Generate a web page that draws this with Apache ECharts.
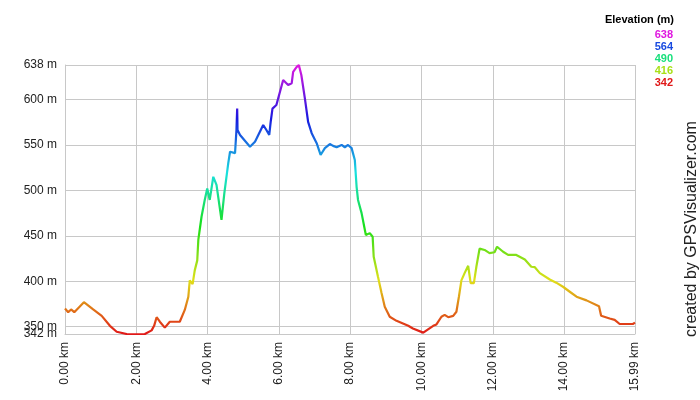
<html>
	<head>
		<meta charset="utf-8" />
		<title>Elevation profile</title>
		<script src="https://cdn.jsdelivr.net/npm/echarts@6/dist/echarts.min.js"></script>
		<style>
			html,
			body {
				margin: 0;
				padding: 0;
				background: #fff;
			}
		</style>
	</head>
	<body>
		<div id="main" style="width: 700px;height:400px;"></div>
		<script type="text/javascript">
			// distance along the track (km) and elevation (m)
			var distKm = [
				0, 0.09, 0.17, 0.26, 0.53, 0.79, 1.03, 1.26, 1.45, 1.73, 2.01, 2.24, 2.43, 2.5, 2.57, 2.66, 2.8, 2.94,
				3.22, 3.36, 3.46, 3.5, 3.58, 3.64, 3.71, 3.74, 3.83, 3.92, 3.99, 4.06, 4.16, 4.25, 4.39, 4.47, 4.58,
				4.63, 4.77, 4.81, 4.83, 4.84, 4.91, 5.19, 5.33, 5.56, 5.65, 5.73, 5.77, 5.82, 5.93, 6.12, 6.26, 6.36,
				6.4, 6.5, 6.56, 6.63, 6.73, 6.82, 6.92, 7.06, 7.17, 7.29, 7.43, 7.52, 7.62, 7.76, 7.85, 7.94, 8.04,
				8.13, 8.18, 8.22, 8.32, 8.44, 8.55, 8.63, 8.66, 8.78, 8.88, 8.97, 9.11, 9.3, 9.63, 9.76, 10.05,
				10.33, 10.42, 10.56, 10.65, 10.75, 10.89, 10.98, 11.05, 11.12, 11.21, 11.31, 11.38, 11.47, 11.54,
				11.63, 11.77, 11.91, 12.05, 12.12, 12.29, 12.43, 12.66, 12.9, 13.08, 13.18, 13.32, 13.6, 13.78,
				13.97, 14.16, 14.35, 14.63, 14.98, 15.04, 15.28, 15.42, 15.56, 15.93, 15.99,
			];
			var elevM = [
				370, 366, 369, 366, 377, 369, 362, 351, 344.5, 342, 341.5, 342, 346, 351, 360.5, 355.5, 349, 355.5,
				355.5, 368.5, 383, 401, 397, 412, 423, 445.5, 471, 489.5, 502, 489.5, 515, 506, 467.5, 497, 530,
				542.5, 541, 566.5, 590, 566.5, 561, 548, 553.5, 572, 566.5, 561, 575.5, 590, 594, 621.5, 616, 618,
				630.5, 636, 638, 627, 601, 575.5, 563, 552, 539, 546.5, 551, 549, 547.5, 550, 547.5, 550, 546.5,
				533.5, 504, 489.5, 475, 451, 453, 449, 427, 405, 387, 372, 361, 356.5, 351, 348, 343.5,
				351, 352.5, 361, 363, 360.5, 362, 366.5, 383, 401, 409, 417, 398, 398, 416,
				436, 434.5, 431, 432, 438, 432.5, 429, 429, 424, 416, 415.5, 409, 402, 398.5,
				394, 388.5, 383, 379, 372.5, 362, 359, 357.5, 353, 353, 354.5,
			];
			var elevMin = 342;
			var elevMax = 638;
			var elevTicks = [342, 350, 400, 450, 500, 550, 600, 638];
			var elevLabels = [350, 400, 450, 500, 550, 600, 638];
			var legendTitle = 'Elevation (m)';
			var legendValues = [638, 564, 490, 416, 342];
			var legendColors = ['#e018e0', '#184ae0', '#18e07c', '#a8e018', '#e01818'];

			var points = distKm.map(function(d, i) {
				return [d, elevM[i]];
			});

			var gridColor = '#c8c8c8';
			var labelFont = {
				margin: 8,
				color: '#222',
				fontSize: 12,
				fontFamily: '"Liberation Sans", Arial',
				formatter: function(v) {
					return v + ' m';
				},
			};
			var graphics = [
				{
					type: 'text',
					right: 26,
					top: 14,
					style: { text: legendTitle, font: 'bold 11px "Liberation Sans", Arial', fill: '#000' },
				},
				{
					type: 'text',
					x: 692,
					y: 229,
					rotation: Math.PI / 2,
					style: {
						text: 'created by GPSVisualizer.com',
						font: '16px "Liberation Sans", Arial',
						fill: '#222',
						align: 'center',
						verticalAlign: 'middle',
					},
				},
			];
			legendValues.forEach(function(v, i) {
				graphics.push({
					type: 'text',
					x: 673,
					y: 35 + i * 12,
					style: {
						text: String(v),
						font: 'bold 11px "Liberation Sans", Arial',
						fill: legendColors[i],
						align: 'right',
						verticalAlign: 'middle',
					},
				});
			});

			var myChart = echarts.init(document.getElementById('main'));
			var option = {
				animation: false,
				grid: { left: 65, right: 65, top: 65, bottom: 66 },
				xAxis: {
					type: 'value',
					min: 0,
					max: 15.99,
					interval: 2,
					axisLine: { lineStyle: { color: gridColor } },
					axisTick: { show: false },
					splitLine: { show: true, lineStyle: { color: gridColor } },
					axisLabel: {
						rotate: 90,
						margin: 8,
						color: '#222',
						fontSize: 12,
						fontFamily: '"Liberation Sans", Arial',
						showMaxLabel: true,
						formatter: function(v) {
							return v.toFixed(2) + ' km';
						},
					},
				},
				yAxis: [
					{
						type: 'value',
						min: elevMin,
						max: elevMax,
						axisLine: { show: true, lineStyle: { color: gridColor } },
						axisTick: { show: false, customValues: elevTicks },
						splitLine: { show: true, lineStyle: { color: gridColor } },
						axisLabel: Object.assign({ customValues: elevLabels }, labelFont),
					},
					{
						// second copy of the scale, only to print the "342 m" label that overlaps "350 m"
						type: 'value',
						position: 'left',
						min: elevMin,
						max: elevMax,
						axisLine: { show: false },
						axisTick: { show: false, customValues: [elevMin] },
						splitLine: { show: false },
						axisLabel: Object.assign({ customValues: [elevMin] }, labelFont),
					},
				],
				visualMap: {
					show: false,
					type: 'continuous',
					dimension: 1,
					min: elevMin,
					max: elevMax,
					inRange: { color: ['#e01818', '#e0e018', '#18e018', '#18e0e0', '#1818e0', '#e018e0'] },
				},
				graphic: graphics,
				series: [
					{
						type: 'line',
						data: points,
						showSymbol: false,
						lineStyle: { width: 2.2 },
					},
				],
			};
			myChart.setOption(option);
		</script>
	</body>
</html>
